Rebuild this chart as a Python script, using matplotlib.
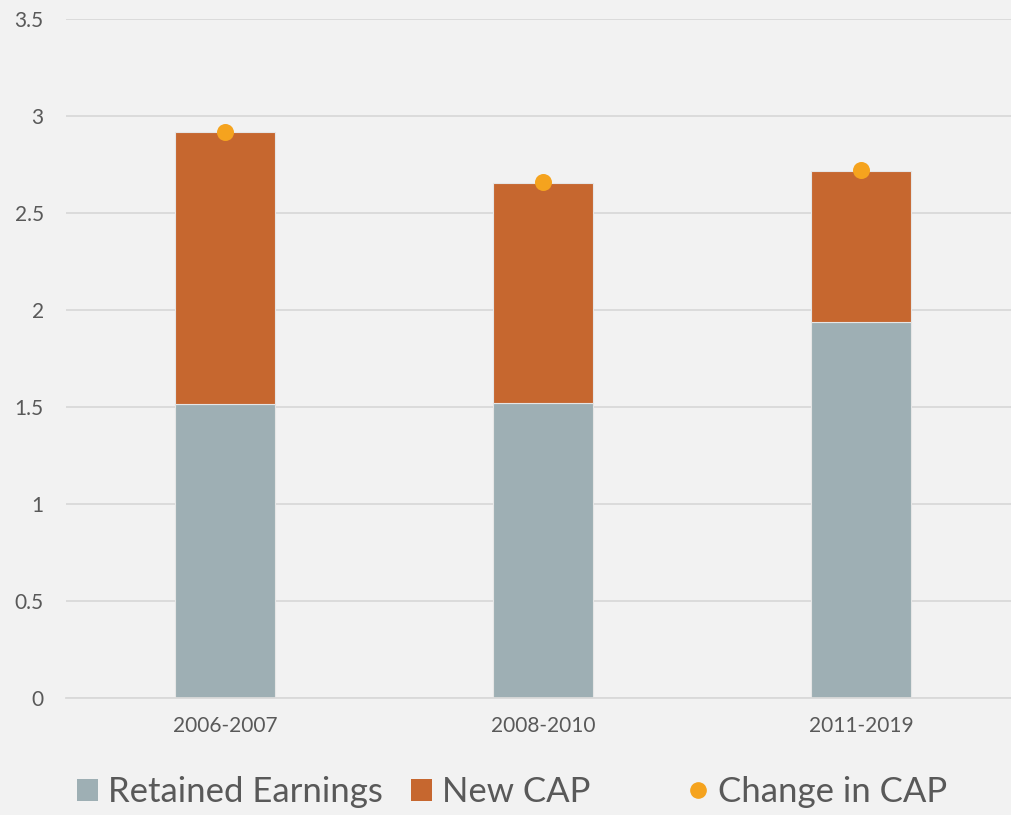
import matplotlib.pyplot as plt
from matplotlib.lines import Line2D
from matplotlib.patches import Patch
import numpy as np

periods = ["2006-2007", "2008-2010", "2011-2019"]
retained_earnings = [1.515, 1.52, 1.94]
new_cap = [1.405, 1.135, 0.775]
change_in_cap = [2.92, 2.66, 2.72]

BG = "#f2f2f2"
GREY = "#9eafb4"
ORANGE = "#c6672f"
DOT = "#f5a31e"
TEXT = "#595959"

plt.rcParams["font.family"] = ["Lato", "DejaVu Sans"]

fig = plt.figure(figsize=(10.12, 8.15), dpi=100, facecolor=BG)
ax = fig.add_axes([66 / 1012, (815 - 698) / 815, (1020 - 66) / 1012, (698 - 19) / 815])
ax.set_facecolor(BG)

x = np.arange(len(periods))
width = 0.313
ax.bar(x, retained_earnings, width, color=GREY, edgecolor="#e6e6e6", linewidth=0.8, zorder=2)
ax.bar(x, new_cap, width, bottom=retained_earnings, color=ORANGE,
       edgecolor="#e6e6e6", linewidth=0.8, zorder=2)
ax.scatter(x, change_in_cap, s=150, color=DOT, zorder=3, linewidths=0)

ax.set_xlim(-0.5, 2.5)
ax.set_ylim(0, 3.5)
ax.set_yticks(np.arange(0, 3.51, 0.5))
ax.set_yticklabels(["0", "0.5", "1", "1.5", "2", "2.5", "3", "3.5"])
ax.set_xticks(x)
ax.set_xticklabels(periods)
ax.grid(axis="y", color="#d9d9d9", linewidth=1.3, zorder=0)
ax.set_axisbelow(True)
for side in ["top", "right", "left"]:
    ax.spines[side].set_visible(False)
ax.spines["bottom"].set_color("#d9d9d9")
ax.spines["bottom"].set_linewidth(1.3)
ax.tick_params(axis="both", length=0, colors=TEXT, labelsize=15)
ax.tick_params(axis="y", pad=16)
ax.tick_params(axis="x", pad=13)

# legend in two parts so the gap before the dot matches the original
legend_kw = dict(frameon=False, fontsize=25, labelcolor=TEXT, handlelength=0.6,
                 handleheight=0.6, handletextpad=0.3, columnspacing=0.8)
fig.legend(
    [Patch(facecolor=GREY, edgecolor="none"), Patch(facecolor=ORANGE, edgecolor="none")],
    ["Retained Earnings", "New CAP"],
    loc="center left", bbox_to_anchor=(46 / 1012, 1 - 792 / 815), ncol=2, **legend_kw)
fig.legend(
    [Line2D([], [], marker="o", linestyle="none", color=DOT, markersize=11)],
    ["Change in CAP"],
    loc="center left", bbox_to_anchor=(656 / 1012, 1 - 792 / 815), **legend_kw)

fig.savefig("out.png", dpi=100, facecolor=BG)
